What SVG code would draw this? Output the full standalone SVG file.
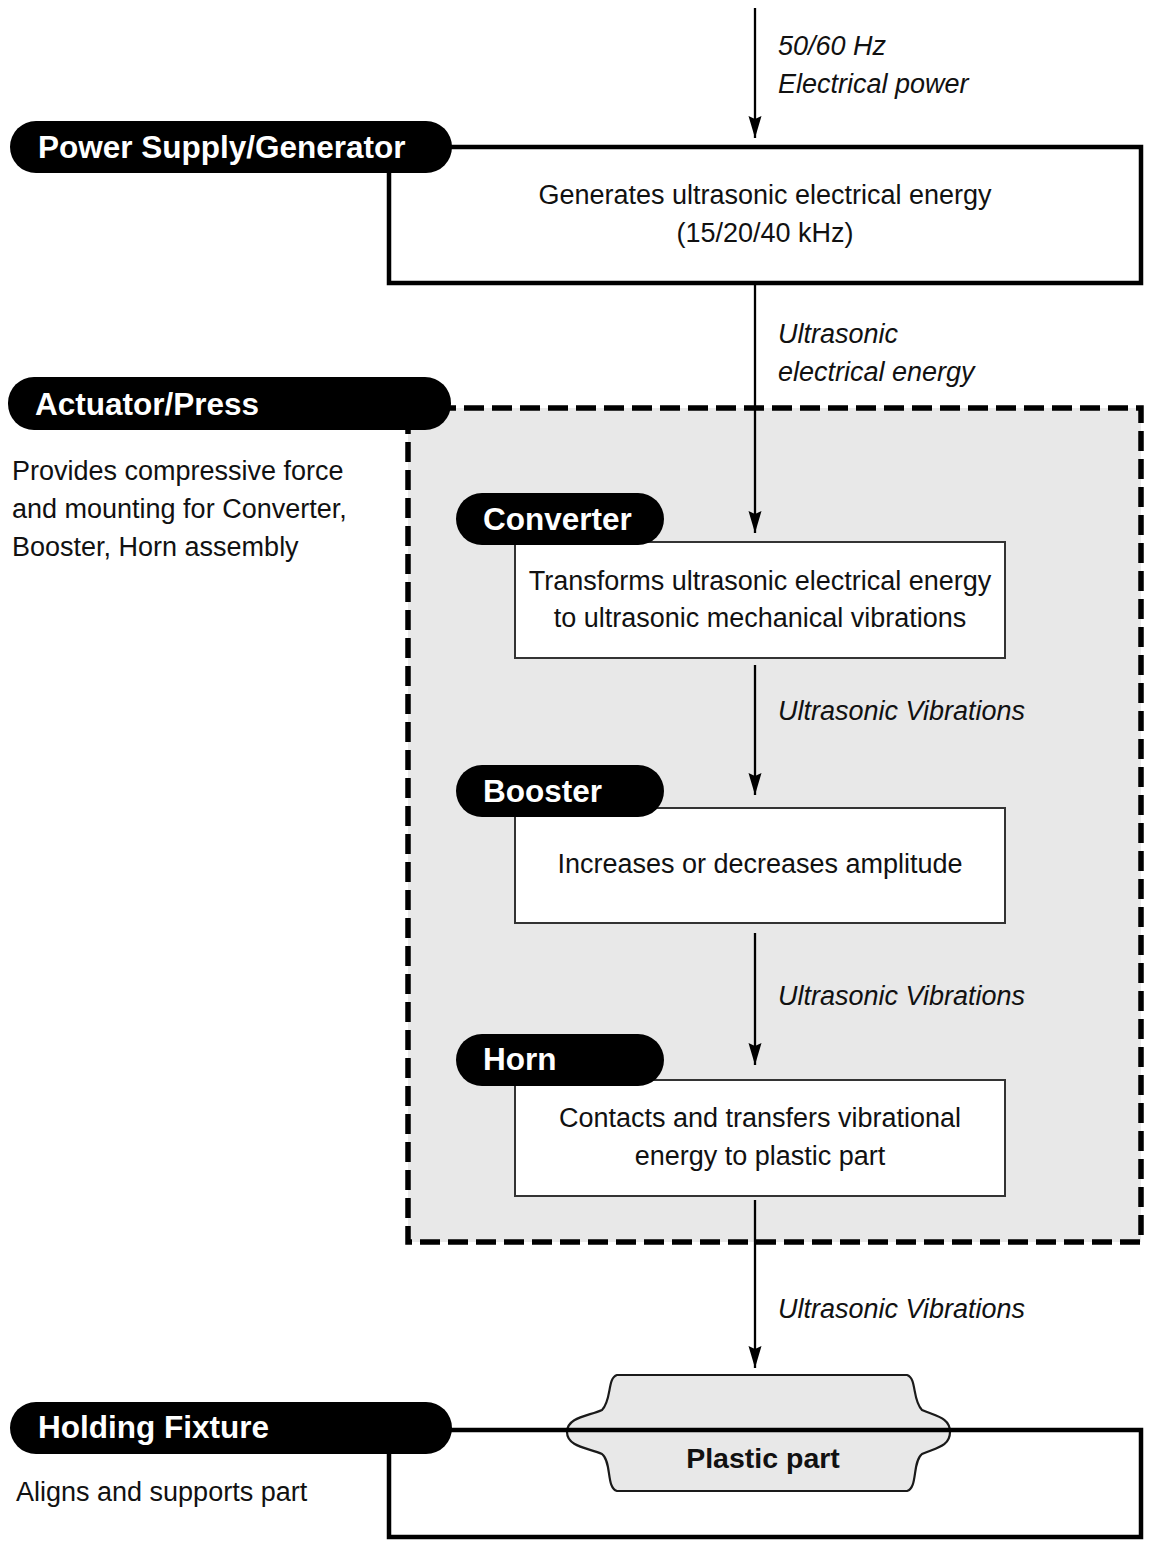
<svg xmlns="http://www.w3.org/2000/svg" width="1149" height="1541" viewBox="0 0 1149 1541">
<defs>
<style>
.t{font-family:"Liberation Sans",Arial,Helvetica,sans-serif;font-size:27px;fill:#111}
.c{text-anchor:middle}
.i{font-style:italic}
.pt{font-family:"Liberation Sans",Arial,Helvetica,sans-serif;font-size:31.5px;font-weight:bold;fill:#fff}
.pill{fill:#000}
.big{fill:none;stroke:#000;stroke-width:4.5}
.box{fill:#fff;stroke:#333;stroke-width:2}
.con{stroke:#000;stroke-width:2.3;fill:none;marker-end:url(#ah)}
</style>
<marker id="ah" viewBox="-1 -8 25 16" markerWidth="25" markerHeight="16" refX="22" refY="0" orient="auto" markerUnits="userSpaceOnUse">
<path d="M0,-6.5 L22,0 L0,6.5 L3,0 Z" fill="#000"/>
</marker>
</defs>
<rect width="1149" height="1541" fill="#fff"/>

<g id="power-supply">
<rect class="big" x="389" y="147" width="752" height="136" fill="#fff"/>
<rect class="pill" x="10" y="121" width="442" height="52" rx="26"/>
<text class="pt" x="38" y="158">Power Supply/Generator</text>
<text class="t c" x="765" y="204">Generates ultrasonic electrical energy</text>
<text class="t c" x="765" y="242">(15/20/40 kHz)</text>
</g>

<g id="actuator">
<rect x="408" y="408" width="733" height="834" fill="#e8e8e8" stroke="#000" stroke-width="5.5" stroke-dasharray="20 8"/>
<rect class="pill" x="8" y="377" width="443" height="53" rx="26"/>
<text class="pt" x="35" y="415">Actuator/Press</text>
<text class="t" x="12" y="480">Provides compressive force</text>
<text class="t" x="12" y="518">and mounting for Converter,</text>
<text class="t" x="12" y="556">Booster, Horn assembly</text>
</g>

<g id="converter">
<rect class="box" x="515" y="542" width="490" height="116"/>
<rect class="pill" x="456" y="493" width="208" height="52" rx="26"/>
<text class="pt" x="483" y="530">Converter</text>
<text class="t c" x="760" y="590">Transforms ultrasonic electrical energy</text>
<text class="t c" x="760" y="627">to ultrasonic mechanical vibrations</text>
</g>

<g id="booster">
<rect class="box" x="515" y="808" width="490" height="115"/>
<rect class="pill" x="456" y="765" width="208" height="52" rx="26"/>
<text class="pt" x="483" y="802">Booster</text>
<text class="t c" x="760" y="873">Increases or decreases amplitude</text>
</g>

<g id="horn">
<rect class="box" x="515" y="1080" width="490" height="116"/>
<rect class="pill" x="456" y="1034" width="208" height="52" rx="26"/>
<text class="pt" x="483" y="1070">Horn</text>
<text class="t c" x="760" y="1127">Contacts and transfers vibrational</text>
<text class="t c" x="760" y="1165">energy to plastic part</text>
</g>

<g id="plastic-part">
<path d="M617,1375 H907 C917,1378 912,1400 922,1410 C935,1416 950,1417 950,1432 C950,1447 935,1448 922,1454 C912,1462 918,1488 907,1491 H617 C606,1488 612,1462 602,1454 C589,1448 567,1447 567,1432 C567,1417 589,1416 602,1410 C612,1400 607,1378 617,1375 Z" fill="#e8e8e8" stroke="#1a1a1a" stroke-width="2.2"/>
</g>

<g id="holding-fixture">
<rect class="big" x="389" y="1430" width="752" height="107"/>
<rect class="pill" x="10" y="1402" width="442" height="52" rx="26"/>
<text class="pt" x="38" y="1438">Holding Fixture</text>
<text class="t" x="16" y="1501">Aligns and supports part</text>
<text x="763" y="1468" style="font-family:'Liberation Sans',Arial,sans-serif;font-size:28.5px;font-weight:bold;fill:#111;text-anchor:middle">Plastic part</text>
</g>

<g id="connectors">
<line class="con" x1="755" y1="8" x2="755" y2="138"/>
<line class="con" x1="755" y1="285" x2="755" y2="533"/>
<line class="con" x1="755" y1="665" x2="755" y2="795"/>
<line class="con" x1="755" y1="933" x2="755" y2="1065"/>
<line class="con" x1="755" y1="1200" x2="755" y2="1368"/>
<text class="t i" x="778" y="55">50/60 Hz</text>
<text class="t i" x="778" y="93">Electrical power</text>
<text class="t i" x="778" y="343">Ultrasonic</text>
<text class="t i" x="778" y="381">electrical energy</text>
<text class="t i" x="778" y="720">Ultrasonic Vibrations</text>
<text class="t i" x="778" y="1005">Ultrasonic Vibrations</text>
<text class="t i" x="778" y="1318">Ultrasonic Vibrations</text>
</g>
</svg>
